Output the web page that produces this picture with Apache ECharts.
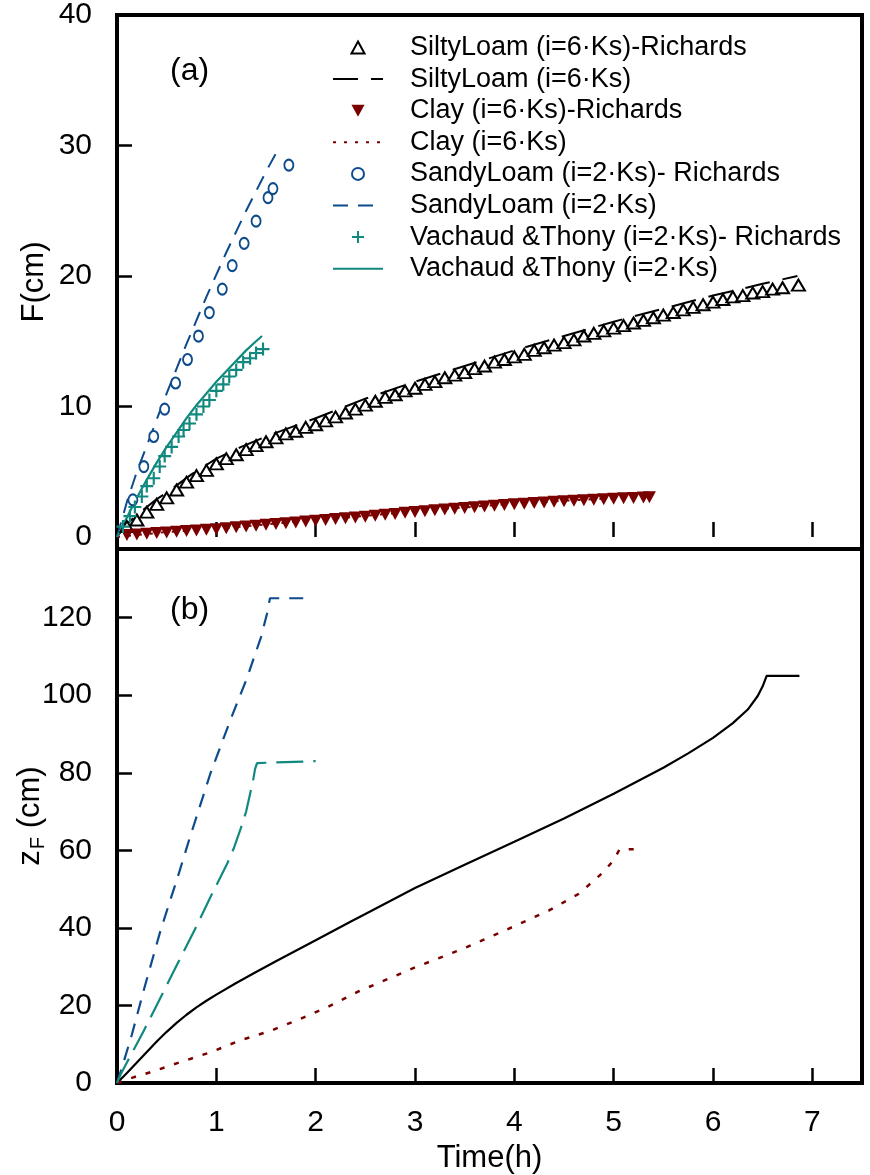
<!DOCTYPE html>
<html><head><meta charset="utf-8">
<script src="https://cdn.jsdelivr.net/npm/echarts@6/dist/echarts.min.js"></script>
<style>html,body{margin:0;padding:0;background:#fff}#c{width:870px;height:1175px}</style>
</head><body><div id="c"></div>
<script>
// ---------- Panel (a): cumulative infiltration F (cm) vs time (h) ----------
const siltyRichT = [0.1,0.2,0.3,0.4,0.5,0.6,0.7,0.8,0.9,1.0,1.1,1.2,1.3,1.4,1.5,1.6,1.7,1.8,1.9,2.0,2.1,2.2,2.3,2.4,2.5,2.6,2.7,2.8,2.9,3.0,3.1,3.2,3.3,3.4,3.5,3.6,3.7,3.8,3.9,4.0,4.1,4.2,4.3,4.4,4.5,4.6,4.7,4.8,4.9,5.0,5.1,5.2,5.3,5.4,5.5,5.6,5.7,5.8,5.9,6.0,6.1,6.2,6.3,6.4,6.5,6.6,6.7,6.86];
const siltyRichF = [0.8,1.3,1.9,2.5,3.0,3.6,4.2,4.7,5.1,5.6,6.0,6.3,6.7,7.0,7.3,7.6,7.9,8.1,8.4,8.6,8.9,9.2,9.5,9.8,10.1,10.4,10.7,10.9,11.2,11.4,11.7,11.9,12.2,12.4,12.6,12.9,13.1,13.4,13.6,13.8,14.0,14.3,14.5,14.7,14.9,15.1,15.4,15.6,15.8,16.0,16.2,16.4,16.6,16.8,17.0,17.2,17.4,17.6,17.8,18.0,18.2,18.4,18.5,18.7,18.8,19.0,19.1,19.3];
const siltyT = [0,0.1,0.2,0.3,0.4,0.5,0.75,1,1.25,1.5,1.75,2,2.5,3,3.5,4,4.5,5,5.5,6,6.5,6.85];
const siltyF = [0,1.0,1.7,2.3,2.9,3.4,4.8,6.0,6.9,7.7,8.4,9.1,10.6,11.9,13.1,14.3,15.4,16.5,17.5,18.5,19.4,20.0];
const clayRichT = [0.1,0.2,0.3,0.4,0.5,0.6,0.7,0.8,0.9,1.0,1.1,1.2,1.3,1.4,1.5,1.6,1.7,1.8,1.9,2.0,2.1,2.2,2.3,2.4,2.5,2.6,2.7,2.8,2.9,3.0,3.1,3.2,3.3,3.4,3.5,3.6,3.7,3.8,3.9,4.0,4.1,4.2,4.3,4.4,4.5,4.6,4.7,4.8,4.9,5.0,5.1,5.2,5.3,5.36];
const clayRichF = [0.15,0.2,0.25,0.3,0.35,0.4,0.45,0.5,0.55,0.6,0.67,0.74,0.8,0.87,0.93,1.0,1.06,1.12,1.18,1.24,1.3,1.37,1.43,1.5,1.56,1.63,1.7,1.77,1.85,1.92,1.98,2.04,2.1,2.16,2.22,2.28,2.34,2.4,2.45,2.5,2.55,2.6,2.65,2.7,2.74,2.78,2.82,2.86,2.9,2.93,2.96,2.99,3.02,3.05];
const clayT = [0,0.5,1,1.5,2,2.5,3,3.5,4,4.5,5,5.36];
const clayF = [0,0.38,0.62,0.97,1.3,1.62,1.97,2.27,2.55,2.78,2.97,3.1];
const sandyRichT = [0.16,0.27,0.37,0.48,0.59,0.71,0.82,0.93,1.06,1.16,1.28,1.40,1.52,1.57,1.73];
const sandyRichF = [2.85,5.4,7.7,9.8,11.8,13.6,15.4,17.2,19.0,20.8,22.5,24.2,26.0,26.7,28.5];
const sandyT = [0,0.1,0.2,0.3,0.4,0.5,0.6,0.7,0.8,0.9,1.0,1.1,1.2,1.3,1.4,1.5,1.6];
const sandyF = [0,2.7,5.0,7.0,9.0,11.0,12.9,14.8,16.6,18.4,20.1,21.8,23.4,25.0,26.5,28.0,29.4];
const vachRichT = [0.06,0.13,0.18,0.25,0.30,0.37,0.43,0.48,0.55,0.62,0.67,0.73,0.80,0.87,0.93,1.0,1.07,1.13,1.20,1.27,1.34,1.40,1.47];
const vachRichF = [0.8,1.6,2.3,3.1,3.9,4.5,5.4,6.2,6.9,7.7,8.2,8.7,9.4,10.0,10.5,11.2,11.7,12.3,12.8,13.4,13.7,14.1,14.4];
const vachT = [0,0.1,0.2,0.3,0.4,0.5,0.6,0.7,0.8,0.9,1.0,1.1,1.2,1.3,1.4,1.46];
const vachF = [0,1.5,3.0,4.4,5.7,6.9,8.0,9.1,10.1,11.0,11.9,12.7,13.5,14.3,15.0,15.4];

// ---------- Panel (b): wetting front depth zF (cm) vs time (h) ----------
const siltyZT = [0,0.1,0.2,0.3,0.4,0.5,0.6,0.7,0.8,0.9,1.0,1.2,1.4,1.6,1.8,2.0,2.35,2.5,3.0,3.5,4.0,4.5,5.0,5.5,5.75,6.0,6.2,6.35,6.45,6.5,6.54,6.87];
const siltyZ  = [0,2.6,5.3,8.0,10.7,13.2,15.5,17.6,19.5,21.2,22.8,25.8,28.6,31.4,34.1,36.8,41.6,43.6,50.3,56.3,62.2,68.2,74.6,81.3,85.0,89.0,92.8,96.3,99.8,102.3,105,105];
const sandyZT = [0,0.05,0.15,0.27,0.44,0.61,0.73,0.94,1.14,1.31,1.45,1.51,1.54,1.95];
const sandyZ  = [0,4,12.5,24,39.5,53,63,79.8,93.5,104.5,115,121,125,125];
const vachZT  = [0,0.04,0.27,0.44,0.61,0.78,0.94,1.11,1.18,1.245,1.3,1.34,1.37,1.39,1.41,1.43,2.0];
const vachZ   = [0,2.4,13.5,22.1,30.8,39.4,47.9,56.6,60.8,65.6,70,74.6,78,81,82.5,83,83];
const clayZT  = [0,0.17,0.34,0.64,0.94,1.24,1.55,1.85,2.12,2.43,3.0,3.48,3.91,4.35,4.65,4.88,5.0,5.06,5.24];
const clayZ   = [0,1.5,2.8,5.4,7.9,11,13.5,16.6,19.6,23.6,29.8,34.6,39.4,44.5,48.8,54,57.4,60.3,60.3];

// ---------- ticks / labels ----------
const xTicks = [0,1,2,3,4,5,6,7];
const yTicksA = [0,10,20,30,40];
const yTicksB = [0,20,40,60,80,100,120];
const legendNames = [
  'SiltyLoam (i=6\u00b7Ks)-Richards',
  'SiltyLoam (i=6\u00b7Ks)',
  'Clay (i=6\u00b7Ks)-Richards',
  'Clay (i=6\u00b7Ks)',
  'SandyLoam (i=2\u00b7Ks)- Richards',
  'SandyLoam (i=2\u00b7Ks)',
  'Vachaud &Thony (i=2\u00b7Ks)- Richards',
  'Vachaud &Thony (i=2\u00b7Ks)'
];

const BLUE = '#0d4b8c', TEAL = '#11897f', RED = '#7a0000', BLACK = '#000';
const FONT = 'Liberation Sans';
const zip = (a, b) => a.map((v, i) => [v, b[i]]);
const PLUS = 'path://M5,0 L7,0 L7,5 L12,5 L12,7 L7,7 L7,12 L5,12 L5,7 L0,7 L0,5 L5,5 Z';
const TRI_UP = 'path://M6,0 L12,11 L0,11 Z';
const TRI_DOWN = 'path://M0,0 L12,0 L6,11 Z';

const tickStyle = {show: true, inside: true, length: 15, lineStyle: {color: '#000', width: 2.5}};
const labelStyle = {color: '#000', fontSize: 30, fontFamily: FONT};
const nameStyle = {color: '#000', fontSize: 31, fontFamily: FONT};

const chart = echarts.init(document.getElementById('c'), null, {renderer: 'canvas'});
chart.setOption({
  animation: false,
  backgroundColor: '#fff',
  grid: [
    {left: 117, top: 15, width: 745, height: 534, show: true, borderColor: '#000', borderWidth: 4, backgroundColor: 'transparent', containLabel: false, outerBoundsMode: 'none'},
    {left: 117, top: 549, width: 745, height: 534, show: true, borderColor: '#000', borderWidth: 4, backgroundColor: 'transparent', containLabel: false, outerBoundsMode: 'none'}
  ],
  xAxis: [
    {type: 'value', gridIndex: 0, min: 0, max: 7.5, axisLine: {show: false}, splitLine: {show: false},
     axisTick: Object.assign({customValues: xTicks.slice(1)}, tickStyle), axisLabel: {show: false}},
    {type: 'value', gridIndex: 1, min: 0, max: 7.5, axisLine: {show: false}, splitLine: {show: false},
     axisTick: Object.assign({customValues: xTicks.slice(1)}, tickStyle),
     axisLabel: Object.assign({customValues: xTicks, margin: 25}, labelStyle),
     name: 'Time(h)', nameLocation: 'middle', nameGap: 60, nameMoveOverlap: false, nameTextStyle: nameStyle}
  ],
  yAxis: [
    {type: 'value', gridIndex: 0, min: -0.92, max: 40, axisLine: {show: false}, splitLine: {show: false},
     axisTick: Object.assign({customValues: yTicksA.slice(1, 4)}, tickStyle),
     axisLabel: Object.assign({customValues: yTicksA, margin: 25}, labelStyle),
     name: 'F(cm)', nameLocation: 'middle', nameGap: 67, nameMoveOverlap: false, nameTextStyle: nameStyle},
    {type: 'value', gridIndex: 1, min: 0, max: 137.7, axisLine: {show: false}, splitLine: {show: false},
     axisTick: Object.assign({customValues: yTicksB.slice(1)}, tickStyle),
     axisLabel: Object.assign({customValues: yTicksB, margin: 25}, labelStyle),
     name: '{z|z}{s|F}{n| (cm)}', nameLocation: 'middle', nameGap: 69, nameMoveOverlap: false,
     nameTextStyle: {color: '#000', fontFamily: FONT, fontSize: 31,
       rich: {z: {fontSize: 31, fontFamily: FONT, color: '#000'},
              s: {fontSize: 20, fontFamily: FONT, color: '#000', padding: [15, 0, 0, 1]},
              n: {fontSize: 31, fontFamily: FONT, color: '#000'}}}}
  ],
  legend: {
    orient: 'vertical', left: 327, top: 29, itemWidth: 50, itemHeight: 12, itemGap: 4.6,
    data: legendNames.map((n, i) => i % 2 === 1 ? {name: n, itemStyle: {opacity: 0}} : {name: n}),
    textStyle: {color: '#000', fontSize: 27, fontFamily: FONT, padding: [0, 0, 0, 22]}
  },
  graphic: [
    {type: 'text', left: 170, top: 55, style: {text: '(a)', font: '32px ' + FONT, fill: '#000'}},
    {type: 'text', left: 170, top: 594, style: {text: '(b)', font: '32px ' + FONT, fill: '#000'}}
  ],
  series: [
    {name: legendNames[0], type: 'scatter', xAxisIndex: 0, yAxisIndex: 0, data: zip(siltyRichT, siltyRichF),
     symbol: TRI_UP, symbolSize: [13, 11], itemStyle: {color: '#fff', borderColor: BLACK, borderWidth: 2, opacity: 1}, z: 3},
    {name: legendNames[1], type: 'line', xAxisIndex: 0, yAxisIndex: 0, data: zip(siltyT, siltyF), symbol: 'none',
     lineStyle: {color: BLACK, width: 2, type: [25, 13]}, itemStyle: {color: BLACK, opacity: 0}, z: 2},
    {name: legendNames[2], type: 'scatter', xAxisIndex: 0, yAxisIndex: 0, data: zip(clayRichT, clayRichF),
     symbol: TRI_DOWN, symbolSize: [13, 12], itemStyle: {color: RED, opacity: 1}, z: 3},
    {name: legendNames[3], type: 'line', xAxisIndex: 0, yAxisIndex: 0, data: zip(clayT, clayF), symbol: 'none',
     lineStyle: {color: RED, width: 2, type: [3, 8]}, itemStyle: {color: RED, opacity: 0}, z: 2},
    {name: legendNames[4], type: 'scatter', xAxisIndex: 0, yAxisIndex: 0, data: zip(sandyRichT, sandyRichF),
     symbol: 'circle', symbolSize: [9, 11], itemStyle: {color: '#fff', borderColor: BLUE, borderWidth: 2, opacity: 1}, z: 3},
    {name: legendNames[5], type: 'line', xAxisIndex: 0, yAxisIndex: 0, data: zip(sandyT, sandyF), symbol: 'none',
     lineStyle: {color: BLUE, width: 2, type: [15, 10]}, itemStyle: {color: BLUE, opacity: 0}, z: 2},
    {name: legendNames[6], type: 'scatter', xAxisIndex: 0, yAxisIndex: 0, data: zip(vachRichT, vachRichF),
     symbol: PLUS, symbolSize: 13, itemStyle: {color: TEAL, opacity: 1}, z: 3},
    {name: legendNames[7], type: 'line', xAxisIndex: 0, yAxisIndex: 0, data: zip(vachT, vachF), symbol: 'none',
     lineStyle: {color: TEAL, width: 2.2, type: 'solid'}, itemStyle: {color: TEAL, opacity: 0}, z: 2},

    {name: 'zF SiltyLoam', type: 'line', xAxisIndex: 1, yAxisIndex: 1, data: zip(siltyZT, siltyZ), symbol: 'none',
     lineStyle: {color: BLACK, width: 2.2, type: 'solid'}},
    {name: 'zF Clay', type: 'line', xAxisIndex: 1, yAxisIndex: 1, data: zip(clayZT, clayZ), symbol: 'none',
     lineStyle: {color: RED, width: 2.5, type: [5, 10]}},
    {name: 'zF SandyLoam', type: 'line', xAxisIndex: 1, yAxisIndex: 1, data: zip(sandyZT, sandyZ), symbol: 'none',
     lineStyle: {color: BLUE, width: 2.2, type: [14, 10]}},
    {name: 'zF Vachaud', type: 'line', xAxisIndex: 1, yAxisIndex: 1, data: zip(vachZT, vachZ), symbol: 'none',
     lineStyle: {color: TEAL, width: 2.2, type: [27, 10]}}
  ]
});
</script>
</body></html>
